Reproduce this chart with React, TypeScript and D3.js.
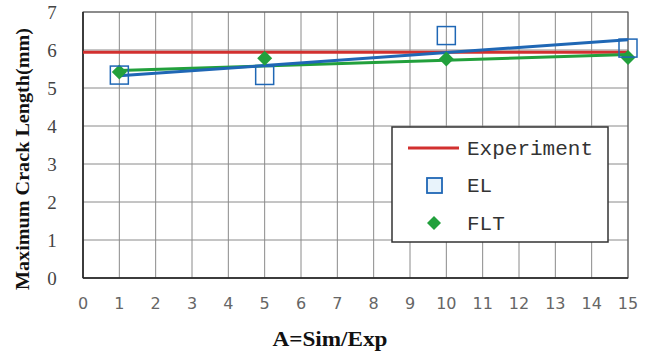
import React from "react";
import * as d3 from "d3";

const xTicks = [0, 1, 2, 3, 4, 5, 6, 7, 8, 9, 10, 11, 12, 13, 14, 15];
const yTicks = [0, 1, 2, 3, 4, 5, 6, 7];
const sampleX = [1, 5, 10, 15];
const elValues = [5.34, 5.33, 6.38, 6.05];
const fltValues = [5.42, 5.78, 5.76, 5.8];
const experimentX = [0, 15];
const experimentValues = [5.94, 5.94];
const elTrendX = [1, 15];
const elTrendValues = [5.32, 6.27];
const fltTrendX = [1, 15];
const fltTrendValues = [5.46, 5.88];
const legendLabels = ["Experiment", "EL", "FLT"];

const W = 654, H = 354;
const m = { left: 83, right: 26, top: 12, bottom: 76 };

function diamondPath(r: number) {
  const p = d3.path();
  p.moveTo(0, -r); p.lineTo(r, 0); p.lineTo(0, r); p.lineTo(-r, 0); p.closePath();
  return p.toString();
}

export default function App() {
  const x = d3.scaleLinear().domain([0, 15]).range([m.left, W - m.right]);
  const y = d3.scaleLinear().domain([0, 7]).range([H - m.bottom, m.top]);
  const line = d3.line<[number, number]>().x(d => x(d[0])).y(d => y(d[1]));
  const zip = (a: number[], b: number[]) => a.map((v, i) => [v, b[i]] as [number, number]);
  const red = "#d2302f", blue = "#1f67b5", green = "#22a03c";
  const diamond = diamondPath(7.5);
  const lx = 392, ly = 127, lw = 216, lh = 115;
  const legendY = [148, 185, 223];
  return (
    <svg width={W} height={H} style={{ display: "block", position: "absolute", left: 0, top: 0, background: "#fff" }}>
      <rect width={W} height={H} fill="#fff" />
      {xTicks.map(t => (
        <line key={"gx" + t} x1={x(t)} x2={x(t)} y1={y(0)} y2={y(7)} stroke="#8a8a8a" strokeWidth={1} />
      ))}
      {yTicks.map(t => (
        <line key={"gy" + t} x1={x(0)} x2={x(15)} y1={y(t)} y2={y(t)} stroke="#8a8a8a" strokeWidth={1} />
      ))}
      <rect x={x(0)} y={y(7)} width={x(15) - x(0)} height={y(0) - y(7)} fill="none" stroke="#555" strokeWidth={1} />
      <line x1={x(0)} x2={x(15)} y1={y(0)} y2={y(0)} stroke="#222" strokeWidth={1.5} />
      <line x1={x(0)} x2={x(0)} y1={y(0)} y2={y(7)} stroke="#222" strokeWidth={1.5} />
      {yTicks.map(t => (
        <text key={"ly" + t} x={52} y={y(t)} dy="0.35em" textAnchor="middle" fontFamily="Liberation Serif" fontSize={19} fill="#444">{t}</text>
      ))}
      {xTicks.map(t => (
        <text key={"lx" + t} x={x(t)} y={303} dy="0.35em" textAnchor="middle" fontFamily="DejaVu Sans" fontSize={16} fill="#666">{t}</text>
      ))}
      <text x={330} y={346} textAnchor="middle" fontFamily="Liberation Serif" fontWeight="bold" fontSize={20} textLength={115} lengthAdjust="spacingAndGlyphs" fill="#111">A=Sim/Exp</text>
      <text transform={`translate(29,159) rotate(-90)`} textAnchor="middle" fontFamily="Liberation Serif" fontWeight="bold" fontSize={19} textLength={262} lengthAdjust="spacingAndGlyphs" fill="#111">Maximum Crack Length(mm)</text>

      <path d={line(zip(experimentX, experimentValues)) || ""} fill="none" stroke={red} strokeWidth={3} />
      <path d={line(zip(fltTrendX, fltTrendValues)) || ""} fill="none" stroke={green} strokeWidth={3} />
      <path d={line(zip(elTrendX, elTrendValues)) || ""} fill="none" stroke={blue} strokeWidth={3} />
      {sampleX.map((v, i) => (
        <path key={"f" + i} d={diamond} transform={`translate(${x(v)},${y(fltValues[i])})`} fill={green} />
      ))}
      {sampleX.map((v, i) => (
        <rect key={"e" + i} x={x(v) - 9} y={y(elValues[i]) - 9} width={18} height={18} fill="none" stroke={blue} strokeWidth={1.5} />
      ))}

      <rect x={lx} y={ly} width={lw} height={lh} fill="#fff" stroke="#333" strokeWidth={1.5} />
      <line x1={408} x2={459} y1={legendY[0]} y2={legendY[0]} stroke={red} strokeWidth={3} />
      <rect x={427} y={legendY[1] - 7} width={15} height={15} fill="#e8f3fb" stroke={blue} strokeWidth={1.8} />
      <path d={diamondPath(7)} transform={`translate(434,${legendY[2]})`} fill={green} />
      {legendLabels.map((l, i) => (
        <text key={l} x={467} y={legendY[i]} dy="0.35em" fontFamily="Liberation Mono" fontSize={21} fill="#333">{l}</text>
      ))}
    </svg>
  );
}
